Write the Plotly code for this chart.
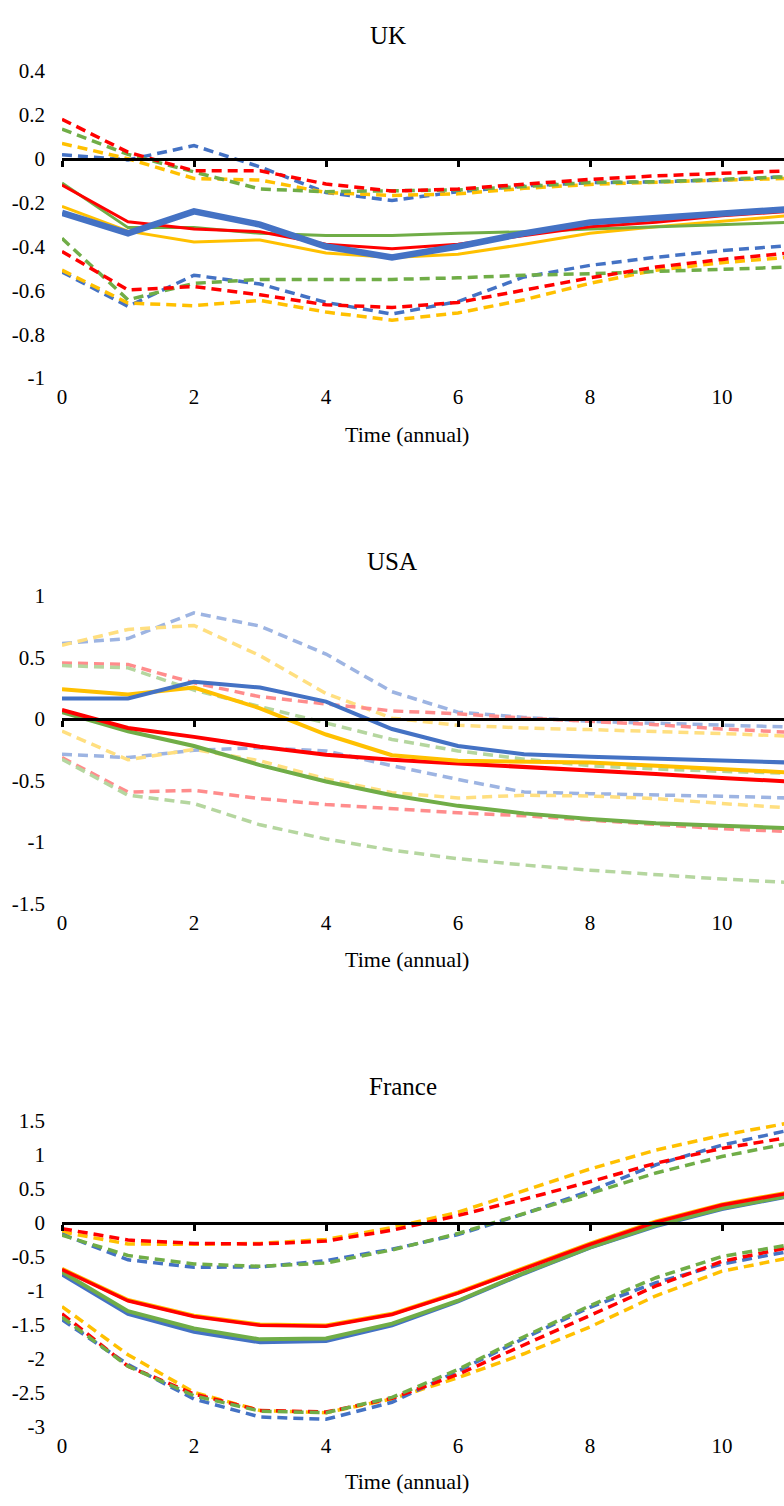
import plotly.graph_objects as go

W, H = 784, 1506
x_vals = list(range(12))

# ---------------- UK ----------------
uk_blue = [-0.247, -0.34, -0.24, -0.30, -0.40, -0.45, -0.40, -0.34, -0.29, -0.27, -0.25, -0.23]
uk_red = [-0.12, -0.287, -0.32, -0.333, -0.39, -0.41, -0.39, -0.35, -0.31, -0.29, -0.26, -0.24]
uk_yellow = [-0.217, -0.33, -0.38, -0.37, -0.43, -0.45, -0.435, -0.39, -0.34, -0.31, -0.285, -0.26]
uk_green = [-0.11, -0.314, -0.314, -0.34, -0.35, -0.35, -0.34, -0.333, -0.32, -0.31, -0.30, -0.29]
uk_blue_hi = [0.018, -0.005, 0.06, -0.037, -0.154, -0.19, -0.15, -0.124, -0.109, -0.105, -0.097, -0.082]
uk_red_hi = [0.18, 0.03, -0.055, -0.055, -0.115, -0.147, -0.138, -0.115, -0.094, -0.078, -0.067, -0.055]
uk_yellow_hi = [0.07, 0.0, -0.09, -0.097, -0.154, -0.167, -0.16, -0.135, -0.117, -0.105, -0.097, -0.09]
uk_green_hi = [0.135, 0.02, -0.06, -0.138, -0.15, -0.147, -0.142, -0.127, -0.108, -0.105, -0.094, -0.082]
uk_blue_lo = [-0.516, -0.673, -0.531, -0.571, -0.655, -0.708, -0.651, -0.539, -0.486, -0.449, -0.419, -0.396]
uk_red_lo = [-0.423, -0.598, -0.583, -0.62, -0.666, -0.678, -0.655, -0.598, -0.543, -0.494, -0.459, -0.43]
uk_yellow_lo = [-0.508, -0.658, -0.67, -0.646, -0.699, -0.736, -0.703, -0.643, -0.568, -0.508, -0.474, -0.449]
uk_green_lo = [-0.363, -0.643, -0.568, -0.55, -0.55, -0.55, -0.543, -0.531, -0.524, -0.513, -0.501, -0.494]

# ---------------- USA ----------------
us_blue = [0.165, 0.165, 0.30, 0.253, 0.139, -0.083, -0.221, -0.288, -0.309, -0.323, -0.336, -0.355]
us_red = [0.072, -0.075, -0.147, -0.227, -0.293, -0.333, -0.363, -0.389, -0.421, -0.448, -0.48, -0.509]
us_yellow = [0.24, 0.197, 0.253, 0.085, -0.128, -0.296, -0.341, -0.349, -0.355, -0.381, -0.408, -0.435]
us_green = [0.053, -0.101, -0.221, -0.376, -0.509, -0.621, -0.707, -0.768, -0.813, -0.848, -0.869, -0.888]
us_blue_hi = [0.611, 0.651, 0.859, 0.752, 0.525, 0.219, 0.053, 0.011, -0.021, -0.035, -0.048, -0.067]
us_red_hi = [0.453, 0.44, 0.291, 0.179, 0.12, 0.064, 0.04, 0.005, -0.021, -0.048, -0.083, -0.109]
us_yellow_hi = [0.597, 0.725, 0.757, 0.512, 0.205, 0.005, -0.053, -0.075, -0.088, -0.101, -0.12, -0.141]
us_green_hi = [0.432, 0.413, 0.232, 0.099, -0.035, -0.168, -0.261, -0.328, -0.381, -0.408, -0.427, -0.443]
us_blue_lo = [-0.288, -0.315, -0.256, -0.235, -0.261, -0.381, -0.493, -0.595, -0.608, -0.616, -0.629, -0.643]
us_red_lo = [-0.315, -0.595, -0.581, -0.648, -0.696, -0.733, -0.763, -0.787, -0.821, -0.861, -0.893, -0.915]
us_yellow_lo = [-0.101, -0.333, -0.248, -0.341, -0.488, -0.6, -0.643, -0.621, -0.627, -0.648, -0.688, -0.723]
us_green_lo = [-0.328, -0.621, -0.688, -0.861, -0.976, -1.067, -1.136, -1.187, -1.229, -1.267, -1.301, -1.328]

# ---------------- France ----------------
fr_blue = [-0.756, -1.334, -1.6, -1.753, -1.734, -1.503, -1.151, -0.742, -0.361, -0.043, 0.207, 0.39]
fr_red = [-0.684, -1.142, -1.373, -1.503, -1.517, -1.344, -1.031, -0.67, -0.313, 0.014, 0.265, 0.438]
fr_yellow = [-0.674, -1.132, -1.363, -1.493, -1.507, -1.334, -1.021, -0.66, -0.303, 0.024, 0.275, 0.448]
fr_green = [-0.718, -1.296, -1.551, -1.71, -1.696, -1.479, -1.142, -0.732, -0.356, -0.034, 0.217, 0.40]
fr_blue_hi = [-0.164, -0.54, -0.65, -0.645, -0.554, -0.385, -0.169, 0.135, 0.472, 0.857, 1.146, 1.363]
fr_red_hi = [-0.082, -0.25, -0.299, -0.308, -0.265, -0.106, 0.111, 0.352, 0.607, 0.881, 1.098, 1.257]
fr_yellow_hi = [-0.13, -0.308, -0.313, -0.299, -0.241, -0.067, 0.159, 0.472, 0.795, 1.074, 1.291, 1.469]
fr_green_hi = [-0.178, -0.477, -0.602, -0.636, -0.588, -0.395, -0.154, 0.135, 0.434, 0.737, 0.978, 1.17]
fr_blue_lo = [-1.421, -2.081, -2.587, -2.852, -2.885, -2.635, -2.177, -1.696, -1.238, -0.877, -0.602, -0.419]
fr_red_lo = [-1.334, -2.105, -2.514, -2.755, -2.779, -2.577, -2.225, -1.792, -1.358, -0.925, -0.564, -0.361]
fr_yellow_lo = [-1.228, -1.936, -2.49, -2.755, -2.789, -2.587, -2.274, -1.922, -1.527, -1.069, -0.708, -0.515]
fr_green_lo = [-1.382, -2.105, -2.539, -2.765, -2.789, -2.563, -2.153, -1.671, -1.214, -0.804, -0.491, -0.323]

titles = ["UK", "USA", "France"]
y_ranges = [[-1, 0.4], [-1.5, 1], [-3, 1.5]]
uk_ytickvals = [0.4, 0.2, 0, -0.2, -0.4, -0.6, -0.8, -1]
uk_yticktext = ["0.4", "0.2", "0", "-0.2", "-0.4", "-0.6", "-0.8", "-1"]
us_ytickvals = [1, 0.5, 0, -0.5, -1, -1.5]
us_yticktext = ["1", "0.5", "0", "-0.5", "-1", "-1.5"]
fr_ytickvals = [1.5, 1, 0.5, 0, -0.5, -1, -1.5, -2, -2.5, -3]
fr_yticktext = ["1.5", "1", "0.5", "0", "-0.5", "-1", "-1.5", "-2", "-2.5", "-3"]
x_tickvals = [0, 2, 4, 6, 8, 10]
x_ticktext = ["0", "2", "4", "6", "8", "10"]
x_title = "Time (annual)"

BLUE, RED, YEL, GRN = "#4472C4", "#FF0000", "#FFC000", "#70AD47"
BLUE_L, RED_L, YEL_L, GRN_L = "#9DB4E2", "#FF8C8C", "#FFDF80", "#B5D69F"

# pixel layout
plot_left = 62
px_per_unit = 66
x_max = (W - plot_left) / px_per_unit
panels_px = [(60, 372), (593, 906), (1127, 1438)]
title_px = [(388, 24), (392, 558), (403, 1092)]
xtitle_px = [(407, 429), (407, 963), (407, 1493)]

def py(p):
    return 1 - p / H

def px(p):
    return (p - plot_left) / (W - plot_left)

fig = go.Figure()

panel_data = [
    dict(solid=[(uk_yellow, YEL, 3), (uk_green, GRN, 3), (uk_red, RED, 3), (uk_blue, BLUE, 6.5)],
         dashed=[(uk_blue_hi, BLUE), (uk_blue_lo, BLUE), (uk_yellow_hi, YEL), (uk_yellow_lo, YEL),
                 (uk_green_hi, GRN), (uk_green_lo, GRN), (uk_red_hi, RED), (uk_red_lo, RED)],
         yt=(uk_ytickvals, uk_yticktext)),
    dict(solid=[(us_green, GRN, 4), (us_red, RED, 4), (us_yellow, YEL, 4), (us_blue, BLUE, 4)],
         dashed=[(us_blue_hi, BLUE_L), (us_blue_lo, BLUE_L), (us_yellow_hi, YEL_L), (us_yellow_lo, YEL_L),
                 (us_red_hi, RED_L), (us_red_lo, RED_L), (us_green_hi, GRN_L), (us_green_lo, GRN_L)],
         yt=(us_ytickvals, us_yticktext)),
    dict(solid=[(fr_blue, BLUE, 4), (fr_green, GRN, 4), (fr_yellow, YEL, 4), (fr_red, RED, 3.5)],
         dashed=[(fr_yellow_hi, YEL), (fr_yellow_lo, YEL), (fr_blue_hi, BLUE), (fr_blue_lo, BLUE),
                 (fr_red_hi, RED), (fr_red_lo, RED), (fr_green_hi, GRN), (fr_green_lo, GRN)],
         yt=(fr_ytickvals, fr_yticktext)),
]

font_fam = "Liberation Serif, 'Times New Roman', Times, serif"
annotations = []
for i in range(3):
    n = i + 1
    xa = "x" if n == 1 else f"x{n}"
    ya = "y" if n == 1 else f"y{n}"
    for vals, col in panel_data[i]["dashed"]:
        fig.add_trace(go.Scatter(x=x_vals, y=vals, mode="lines", xaxis=xa, yaxis=ya,
                                 line=dict(color=col, width=3.5, dash="10px,6px"),
                                 showlegend=False, hoverinfo="skip"))
    for vals, col, w in panel_data[i]["solid"]:
        fig.add_trace(go.Scatter(x=x_vals, y=vals, mode="lines", xaxis=xa, yaxis=ya,
                                 line=dict(color=col, width=w),
                                 showlegend=False, hoverinfo="skip"))
    top, bot = panels_px[i]
    d0, d1 = py(bot), py(top)
    ymin, ymax = y_ranges[i]
    tv, tt = panel_data[i]["yt"]
    xkey = "xaxis" if n == 1 else f"xaxis{n}"
    ykey = "yaxis" if n == 1 else f"yaxis{n}"
    fig.update_layout(**{
        xkey: dict(domain=[0, 1], anchor=ya, range=[0, x_max], tickvals=x_tickvals,
                   ticktext=x_ticktext,
                   showline=False, showgrid=False, zeroline=False, ticks="",
                   tickfont=dict(family=font_fam, size=21, color="black"),
                   ticklabelstandoff=4),
        ykey: dict(domain=[d0, d1], anchor=xa, range=y_ranges[i], tickvals=tv, ticktext=tt,
                   showline=False, showgrid=False, zeroline=False, ticks="",
                   tickfont=dict(family=font_fam, size=21, color="black"),
                   ticklabelstandoff=16),
    })
    # zero-crossing horizontal axis with tick marks
    zpos = d0 + (0 - ymin) / (ymax - ymin) * (d1 - d0)
    zn = n + 3
    fig.update_layout(**{
        f"xaxis{zn}": dict(overlaying=xa, anchor="free", position=zpos, range=[0, x_max],
                           tickvals=x_tickvals, showticklabels=False, showline=True,
                           linecolor="black", linewidth=2.5, ticks="outside", ticklen=6,
                           tickwidth=2.5, tickcolor="black", showgrid=False, zeroline=False)
    })
    fig.add_trace(go.Scatter(x=[None], y=[None], xaxis=f"x{zn}", yaxis=ya, showlegend=False,
                             hoverinfo="skip"))
    tx, ty = title_px[i]
    annotations.append(dict(text=titles[i], xref="paper", yref="paper", x=px(tx), y=py(ty),
                            xanchor="center", yanchor="middle", showarrow=False,
                            font=dict(family=font_fam, size=25, color="black")))
    ax, ay = xtitle_px[i]
    annotations.append(dict(text=x_title, xref="paper", yref="paper", x=px(ax), y=py(ay),
                            xanchor="center", yanchor="middle", showarrow=False,
                            font=dict(family=font_fam, size=22, color="black")))

fig.update_layout(width=W, height=H, margin=dict(l=plot_left, r=0, t=0, b=0),
                  paper_bgcolor="white", plot_bgcolor="white", annotations=annotations,
                  showlegend=False, font=dict(family=font_fam, color="black"))
fig.write_html("out.html")
